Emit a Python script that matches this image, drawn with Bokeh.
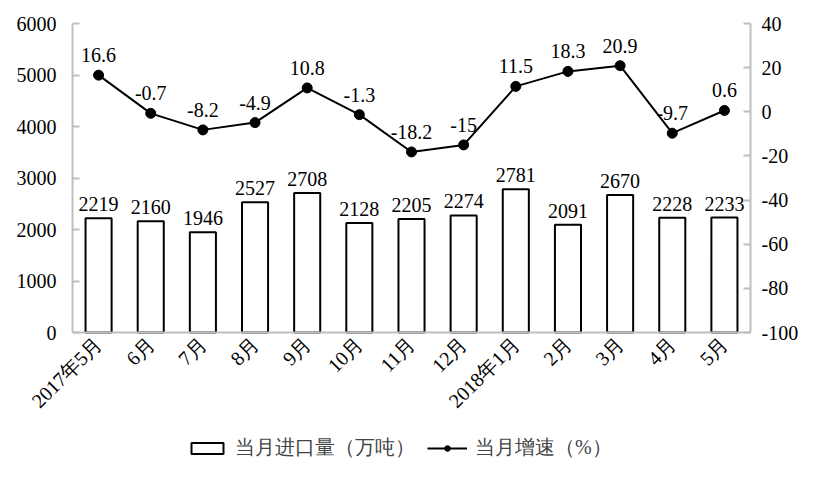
import math
from bokeh.plotting import figure
from bokeh.models import (ColumnDataSource, Range1d, LinearAxis, FixedTicker,
                          Legend, LegendItem, FactorRange, CategoricalAxis,
                          PrintfTickFormatter)
from bokeh.core.properties import value
from bokeh.embed import file_html
from bokeh.resources import INLINE

months = ["2017年5月", "6月", "7月", "8月", "9月", "10月", "11月", "12月",
          "2018年1月", "2月", "3月", "4月", "5月"]
imports = [2219, 2160, 1946, 2527, 2708, 2128, 2205, 2274, 2781, 2091, 2670, 2228, 2233]
growth = [16.6, -0.7, -8.2, -4.9, 10.8, -1.3, -18.2, -15, 11.5, 18.3, 20.9, -9.7, 0.6]
left_ticks = [0, 1000, 2000, 3000, 4000, 5000, 6000]
right_ticks = [-100, -80, -60, -40, -20, 0, 20, 40]

FONT = "Liberation Serif"
FS = "20px"
GRAY = "#BFBFBF"

# layout (pixels): canvas 817x478, data area x 72..750, y 23..332
W, H = 817, 478
AX_L, AX_R, AX_T, AX_B = 72, 750, 23, 332
FRAME_L = 5
n = len(months)
unit_px = (AX_R - AX_L) / n
pad_units = (AX_L - FRAME_L) / unit_px          # each side

L0, L1 = 0, 6000
R0, R1 = -100, 40
ph = AX_B - AX_T
ly = (L1 - L0) / ph
ry = (R1 - R0) / ph

src = ColumnDataSource(dict(
    m=months, imp=imports, g=growth,
    imp_lbl=[str(v) for v in imports],
    g_lbl=[("%g" % v) for v in growth],
))

xr = FactorRange(*months, range_padding=pad_units, range_padding_units="absolute")
p = figure(frame_width=W - FRAME_L, frame_height=H, x_range=xr,
           y_range=Range1d(L0 - (H - AX_B) * ly, L1 + AX_T * ly),
           output_backend="svg", toolbar_location=None,
           x_axis_location=None, y_axis_location=None,
           min_border_left=FRAME_L, min_border_right=0, min_border_top=0,
           min_border_bottom=0)
p.outline_line_color = None
p.xgrid.grid_line_color = None
p.ygrid.grid_line_color = None
p.background_fill_color = "white"
p.border_fill_color = "white"

p.extra_y_ranges = {"r": Range1d(R0 - (H - AX_B) * ry, R1 + AX_T * ry)}

bars = p.vbar(x="m", top="imp", width=0.5, source=src, fill_color="white",
              line_color="black", line_width=2)
ln = p.line(x="m", y="g", source=src, y_range_name="r", line_color="black",
            line_width=2)
pts = p.scatter(x="m", y="g", source=src, y_range_name="r", size=10,
                fill_color="black", line_color="black")

p.text(x="m", y="imp", text="imp_lbl", source=src, text_align="center",
       text_baseline="alphabetic", y_offset=-14, text_font=value(FONT),
       text_font_size=FS, text_color="black")
p.text(x="m", y="g", text="g_lbl", source=src, y_range_name="r",
       text_align="center", text_baseline="alphabetic", y_offset=-20,
       text_font=value(FONT), text_font_size=FS, text_color="black")

def style_axis(ax):
    ax.axis_line_color = GRAY
    ax.axis_line_width = 2
    ax.major_tick_line_color = GRAY
    ax.major_tick_line_width = 2
    ax.major_tick_in = 7
    ax.major_tick_out = 0
    ax.minor_tick_line_color = None
    ax.major_label_text_font = FONT
    ax.major_label_text_font_size = FS
    ax.major_label_text_color = "black"

yl = LinearAxis(ticker=FixedTicker(ticks=left_ticks), fixed_location=0,
                formatter=PrintfTickFormatter(format="%d"))
style_axis(yl)
yl.bounds = (L0, L1)
yl.major_label_standoff = 16
p.add_layout(yl, "left")

yr = LinearAxis(y_range_name="r", ticker=FixedTicker(ticks=right_ticks),
                fixed_location=n, formatter=PrintfTickFormatter(format="%d"))
style_axis(yr)
yr.bounds = (R0, R1)
yr.major_label_standoff = 11
p.add_layout(yr, "right")

xa = CategoricalAxis(fixed_location=0)
style_axis(xa)
xa.bounds = (0, n)
xa.major_tick_line_color = None
xa.major_label_orientation = math.pi / 4
xa.major_label_standoff = 8
p.add_layout(xa, "below")

legend = Legend(items=[
    LegendItem(label="当月进口量（万吨）", renderers=[bars]),
    LegendItem(label="当月增速（%）", renderers=[ln, pts]),
], orientation="horizontal", location=(182, 17))
legend.label_text_font = FONT
legend.label_text_font_size = FS
legend.glyph_width = 40
legend.glyph_height = 14
legend.spacing = 12
legend.label_standoff = 8
legend.border_line_color = None
legend.background_fill_alpha = 0
legend.padding = 0
legend.margin = 0
p.add_layout(legend, "center")

open("out.html", "w").write(file_html(p, INLINE))
